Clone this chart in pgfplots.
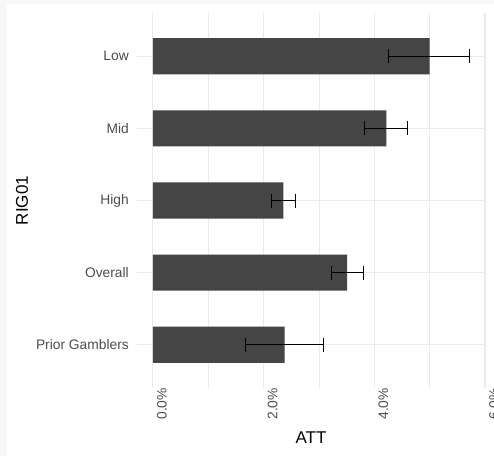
\documentclass[border=0pt]{standalone}
\usepackage{pgfplots}
\pgfplotsset{compat=1.18}
\usepackage{pgfplotstable}
\usepackage{fontspec}
\setmainfont{Liberation Sans}
\definecolor{barfill}{HTML}{454545}
\definecolor{gridc}{HTML}{EBEBEB}
\definecolor{ticktext}{HTML}{4D4D4D}
\definecolor{outerbg}{HTML}{F7F7F7}

% value, position (5=top), minus error, plus error
\pgfplotstableread{
x    y  em    ep
5.00 5  0.74  0.72
4.22 4  0.39  0.38
2.36 3  0.22  0.22
3.51 2  0.28  0.29
2.38 1  0.70  0.70
}\attdata

\begin{document}
\begin{tikzpicture}
\fill[outerbg] (0pt,0pt) rectangle (494pt,456pt);
\fill[white] (7pt,0pt) rectangle (494pt,452pt);
\begin{axis}[
  at={(137pt,68pt)}, anchor=south west,
  scale only axis,
  width=348pt, height=375pt,
  xmin=-0.286, xmax=6.0,
  ymin=0.4, ymax=5.6,
  xtick={0,2,4,6},
  minor xtick={1,3,5},
  xticklabels={0.0\%,2.0\%,4.0\%,6.0\%},
  ytick={1,2,3,4,5},
  yticklabels={Prior Gamblers,Overall,High,Mid,Low},
  xmajorgrids, ymajorgrids, xminorgrids,
  major grid style={draw=gridc, line width=1.1pt},
  minor grid style={draw=gridc, line width=0.6pt},
  axis line style={draw=none},
  major tick length=0pt, minor tick length=0pt,
  tick style={draw=none},
  xticklabel style={rotate=90, anchor=east, inner sep=0pt, yshift=-9pt,
    font=\fontsize{13.8}{16}\selectfont, text=ticktext},
  yticklabel style={anchor=east, inner sep=0pt, xshift=-8pt,
    font=\fontsize{13.8}{16}\selectfont, text=ticktext},
  xlabel={ATT},
  ylabel={RIG01},
  xlabel style={at={(axis description cs:0.5,0)}, anchor=center, yshift=-50pt,
    font=\fontsize{17}{20}\selectfont, inner sep=0pt},
  ylabel style={at={(axis description cs:-0.3305,0.5)}, anchor=center,
    font=\fontsize{17}{20}\selectfont, inner sep=0pt},
]
\addplot[xbar, bar width=0.5, fill=barfill, draw=none,
  error bars/.cd, x dir=both, x explicit,
  error bar style={black, line width=0.8pt},
  error mark options={black, line width=0.8pt, mark size=7pt, rotate=90}]
  table[x=x, y=y, x error plus=ep, x error minus=em] {\attdata};
\end{axis}
\pgfresetboundingbox
\useasboundingbox (0pt,0pt) rectangle (494pt,456pt);
\end{tikzpicture}
\end{document}
